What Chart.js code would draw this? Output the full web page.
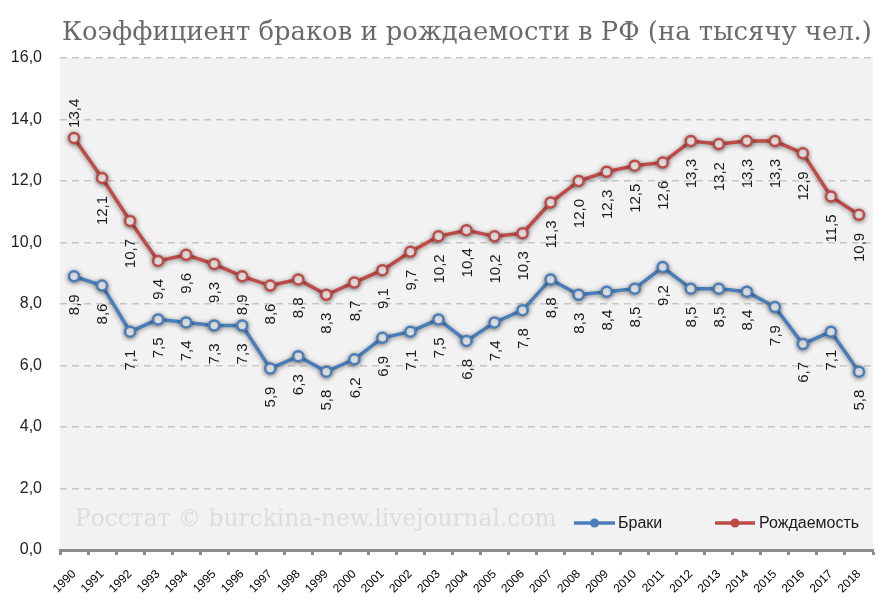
<!DOCTYPE html>
<html>
<head>
<meta charset="utf-8">
<script src="https://cdn.jsdelivr.net/npm/chart.js@4.4.1/dist/chart.umd.min.js"></script>
<style>
  html, body { margin: 0; padding: 0; background: #ffffff; }
  #wrap { width: 895px; height: 604px; }
</style>
</head>
<body>
<div id="wrap"><canvas id="c" width="895" height="604"></canvas></div>
<script>
const years = ['1990','1991','1992','1993','1994','1995','1996','1997','1998','1999','2000','2001','2002','2003','2004','2005','2006','2007','2008','2009','2010','2011','2012','2013','2014','2015','2016','2017','2018'];
const marriages = [8.9, 8.6, 7.1, 7.5, 7.4, 7.3, 7.3, 5.9, 6.3, 5.8, 6.2, 6.9, 7.1, 7.5, 6.8, 7.4, 7.8, 8.8, 8.3, 8.4, 8.5, 9.2, 8.5, 8.5, 8.4, 7.9, 6.7, 7.1, 5.8];
const births = [13.4, 12.1, 10.7, 9.4, 9.6, 9.3, 8.9, 8.6, 8.8, 8.3, 8.7, 9.1, 9.7, 10.2, 10.4, 10.2, 10.3, 11.3, 12.0, 12.3, 12.5, 12.6, 13.3, 13.2, 13.3, 13.3, 12.9, 11.5, 10.9];
const seriesNames = ['Браки', 'Рождаемость'];
const titleText = 'Коэффициент браков и рождаемости в РФ (на тысячу чел.)';
const watermarkText = 'Росстат © burckina-new.livejournal.com';

const BLUE = '#4A7EBB';
const RED = '#BE4B48';

function fmt(v) { return v.toFixed(1).replace('.', ','); }

const decor = {
  id: 'decor',
  beforeDraw(chart) {
    const { ctx, chartArea: a } = chart;
    ctx.save();
    ctx.fillStyle = '#F2F2F2';
    ctx.fillRect(a.left, a.top, a.right - a.left, a.bottom - a.top);
    // title
    let size = 26;
    ctx.font = size + 'px "DejaVu Serif"';
    let w = ctx.measureText(titleText).width;
    size = size * 810 / w;
    ctx.font = size + 'px "DejaVu Serif"';
    ctx.fillStyle = '#6A6A6A';
    ctx.textBaseline = 'alphabetic';
    ctx.textAlign = 'left';
    ctx.fillText(titleText, 62, 40);
    // watermark
    let ws = 20;
    ctx.font = ws + 'px "DejaVu Serif"';
    w = ctx.measureText(watermarkText).width;
    ws = ws * 482 / w;
    ctx.font = ws + 'px "DejaVu Serif"';
    ctx.fillStyle = '#DCDCDC';
    ctx.fillText(watermarkText, 75, 526);
    ctx.restore();
  },
  beforeDatasetDraw(chart) {
    const ctx = chart.ctx;
    ctx.save();
    ctx.shadowColor = 'rgba(0,0,0,0.45)';
    ctx.shadowBlur = 5;
    ctx.shadowOffsetX = 0;
    ctx.shadowOffsetY = 1;
  },
  afterDatasetDraw(chart) {
    chart.ctx.restore();
  },
  afterDatasetsDraw(chart) {
    const ctx = chart.ctx;
    ctx.save();
    ctx.font = '15px "Liberation Sans"';
    ctx.fillStyle = '#1a1a1a';
    ctx.textBaseline = 'middle';
    chart.data.datasets.forEach((ds, di) => {
      const meta = chart.getDatasetMeta(di);
      meta.data.forEach((pt, i) => {
        const v = ds.data[i];
        const above = (di === 1 && i === 0);
        ctx.save();
        if (above) {
          ctx.translate(pt.x + 1, pt.y - 10);
          ctx.rotate(-Math.PI / 2);
          ctx.textAlign = 'left';
        } else {
          ctx.translate(pt.x + 1, pt.y + 18);
          ctx.rotate(-Math.PI / 2);
          ctx.textAlign = 'right';
        }
        ctx.fillText(fmt(v), 0, 0);
        ctx.restore();
      });
    });
    ctx.restore();
  },
  afterDraw(chart) {
    const ctx = chart.ctx;
    ctx.save();
    const items = [
      { x1: 574, x2: 615, tx: 618, color: chart.data.datasets[0].borderColor, label: chart.data.datasets[0].label },
      { x1: 715, x2: 755, tx: 759, color: chart.data.datasets[1].borderColor, label: chart.data.datasets[1].label }
    ];
    const y = 523;
    items.forEach(it => {
      ctx.strokeStyle = it.color;
      ctx.lineWidth = 3.5;
      ctx.beginPath();
      ctx.moveTo(it.x1, y);
      ctx.lineTo(it.x2, y);
      ctx.stroke();
      ctx.fillStyle = it.color;
      ctx.beginPath();
      ctx.arc((it.x1 + it.x2) / 2, y, 4.5, 0, Math.PI * 2);
      ctx.fill();
      ctx.fillStyle = '#1a1a1a';
      ctx.font = '16px "Liberation Sans"';
      ctx.textAlign = 'left';
      ctx.textBaseline = 'middle';
      ctx.fillText(it.label, it.tx, y + 1);
    });
    ctx.restore();
  }
};

new Chart(document.getElementById('c'), {
  type: 'line',
  data: {
    labels: years,
    datasets: [
      {
        label: seriesNames[0],
        data: marriages,
        borderColor: BLUE,
        backgroundColor: '#ffffff',
        borderWidth: 3.5,
        pointRadius: 5,
        pointBorderWidth: 2.5,
        pointBackgroundColor: '#ffffff',
        pointBorderColor: BLUE,
        tension: 0,
        fill: false
      },
      {
        label: seriesNames[1],
        data: births,
        borderColor: RED,
        backgroundColor: '#ffffff',
        borderWidth: 3.5,
        pointRadius: 5,
        pointBorderWidth: 2.5,
        pointBackgroundColor: '#ffffff',
        pointBorderColor: RED,
        tension: 0,
        fill: false
      }
    ]
  },
  options: {
    responsive: false,
    animation: false,
    devicePixelRatio: 1,
    layout: { padding: { top: 58, right: 22, left: 0, bottom: 0 } },
    plugins: {
      legend: { display: false },
      title: { display: false },
      tooltip: { enabled: false }
    },
    scales: {
      x: {
        type: 'category',
        offset: true,
        grid: {
          offset: true,
          drawOnChartArea: false,
          drawTicks: true,
          tickLength: 5,
          tickWidth: 3,
          tickColor: '#8C8C8C'
        },
        border: { display: true, color: '#8C8C8C', width: 3 },
        ticks: {
          minRotation: 45,
          maxRotation: 45,
          autoSkip: false,
          padding: 12,
          color: '#000000',
          font: { family: '"Liberation Sans"', size: 12 }
        },
        afterFit(s) { s.height = 54; }
      },
      y: {
        min: 0,
        max: 16,
        ticks: {
          stepSize: 2,
          padding: 18,
          color: '#222222',
          font: { family: '"Liberation Sans"', size: 16 },
          callback: v => fmt(v)
        },
        grid: {
          drawTicks: false,
          color: ctx => ctx.tick && ctx.tick.value === 0 ? 'rgba(0,0,0,0)' : '#C6C6C6',
          lineWidth: 1.5,
          borderDash: [7, 5]
        },
        border: { display: true, width: 0, color: 'rgba(0,0,0,0)', dash: [7, 5] },
        afterFit(s) { s.width = 60; }
      }
    }
  },
  plugins: [decor]
});
</script>
</body>
</html>
